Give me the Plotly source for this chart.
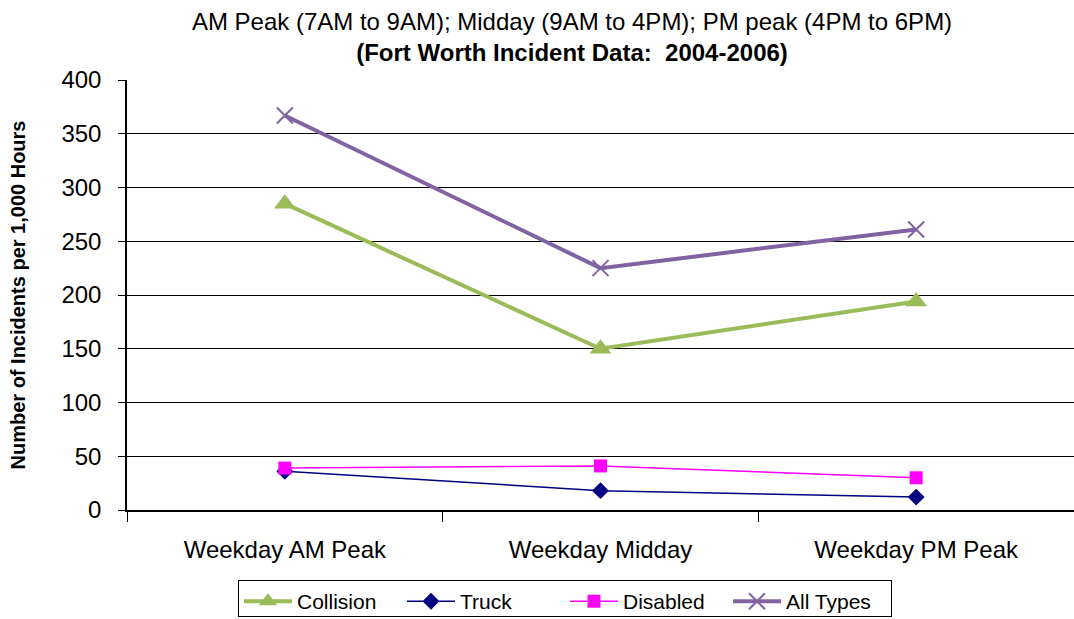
import plotly.graph_objects as go

periods = ["Weekday AM Peak", "Weekday Midday", "Weekday PM Peak"]
collision = [285, 150, 194]
truck = [36, 18, 12]
disabled = [39, 41, 30]
all_types = [367, 225, 261]

FONT = "Liberation Sans, Arial, sans-serif"

fig = go.Figure()
fig.add_trace(go.Scatter(x=periods, y=collision, name="Collision", mode="lines+markers",
                         line=dict(color="#9BBB59", width=4),
                         marker=dict(symbol="triangle-up", size=19, color="#9BBB59")))
fig.add_trace(go.Scatter(x=periods, y=truck, name="Truck", mode="lines+markers",
                         line=dict(color="#000080", width=1.5),
                         marker=dict(symbol="diamond", size=13, color="#000080")))
fig.add_trace(go.Scatter(x=periods, y=disabled, name="Disabled", mode="lines+markers",
                         line=dict(color="#FF00FF", width=1.5),
                         marker=dict(symbol="square", size=13, color="#FF00FF")))
fig.add_trace(go.Scatter(x=periods, y=all_types, name="All Types", mode="lines+markers",
                         line=dict(color="#8064A2", width=4),
                         marker=dict(symbol="x-thin", size=16, color="#8064A2",
                                     line=dict(color="#8064A2", width=2))))

fig.update_layout(
    width=1074, height=619,
    margin=dict(l=127, r=0, t=80, b=109, autoexpand=False),
    paper_bgcolor="white", plot_bgcolor="white",
    font=dict(family=FONT, color="black"),
    title=dict(text="AM Peak (7AM to 9AM); Midday (9AM to 4PM); PM peak (4PM to 6PM)<br><b>(Fort Worth Incident Data:  2004-2006)</b>",
               x=0.5326, xanchor="center", xref="container", y=0.952, yanchor="top",
               font=dict(size=24, family=FONT)),
    legend=dict(orientation="h", x=0.4625, xanchor="center", y=-0.163, yanchor="top",
                bordercolor="black", borderwidth=1, font=dict(size=21, family=FONT),
                itemwidth=48, entrywidth=100, tracegroupgap=0, valign="middle"),
    showlegend=True,
)
fig.update_xaxes(range=[-0.5, 2.5], showline=True, linecolor="black", linewidth=1.5,
                 ticks="outside", tickson="boundaries", ticklen=10, tickcolor="black",
                 tickfont=dict(size=24), ticklabelstandoff=17,
                 showgrid=False, automargin=False)
fig.update_yaxes(range=[0, 400], dtick=50, showline=True, linecolor="black", linewidth=1.5,
                 ticks="outside", ticklen=7, tickcolor="black", tickfont=dict(size=24),
                 ticklabelstandoff=12,
                 showgrid=True, gridcolor="black", gridwidth=1, zeroline=False, automargin=False,
                 title=dict(text="<b>Number of Incidents per 1,000 Hours</b>", font=dict(size=20), standoff=30))

fig.write_html("out.html", config={"displayModeBar": False},
               post_script="document.body.style.margin='0';"
                           "var l=document.querySelector('.legend .bg');"
                           "if(l){l.setAttribute('height','36');}")
